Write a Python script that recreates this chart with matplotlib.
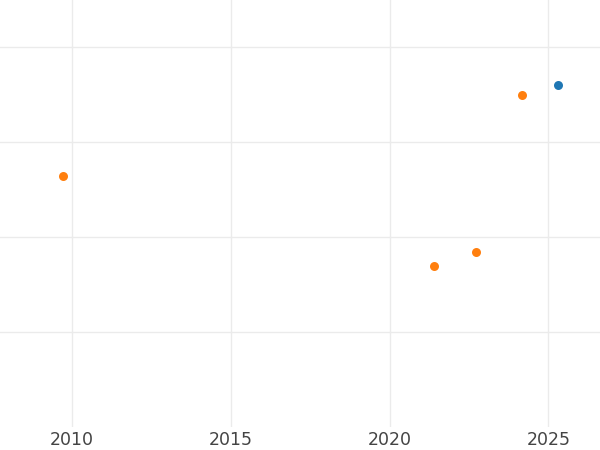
import matplotlib
matplotlib.use('Agg')
import matplotlib.pyplot as plt

# values (y has no labels, so an arbitrary unit scale)
blue_years = [2025.3]
blue_values = [3.6]
orange_years = [2024.17, 2009.71, 2021.4, 2022.72]
orange_values = [3.495, 2.642, 1.695, 1.842]
year_ticks = [2010, 2015, 2020, 2025]
value_ticks = [1, 2, 3, 4]

fig = plt.figure(figsize=(6, 4.5), dpi=100)
ax = fig.add_axes([0, 23 / 450, 1, 427 / 450])

ax.scatter(blue_years, blue_values, s=42, color='#1f77b4', zorder=3, linewidths=0)
ax.scatter(orange_years, orange_values, s=42, color='#ff7f0e', zorder=3, linewidths=0)

ax.set_xlim(2007.73, 2026.63)
ax.set_ylim(0, 4.495)
ax.set_xticks(year_ticks)
ax.set_yticks(value_ticks)
ax.set_yticklabels([])
ax.grid(True, color='#ebebeb', linewidth=1)
ax.set_axisbelow(True)
ax.tick_params(length=0, labelsize=12.5, labelcolor='#444444', pad=3)
for s in ax.spines.values():
    s.set_visible(False)

fig.savefig('out.png', dpi=100)
